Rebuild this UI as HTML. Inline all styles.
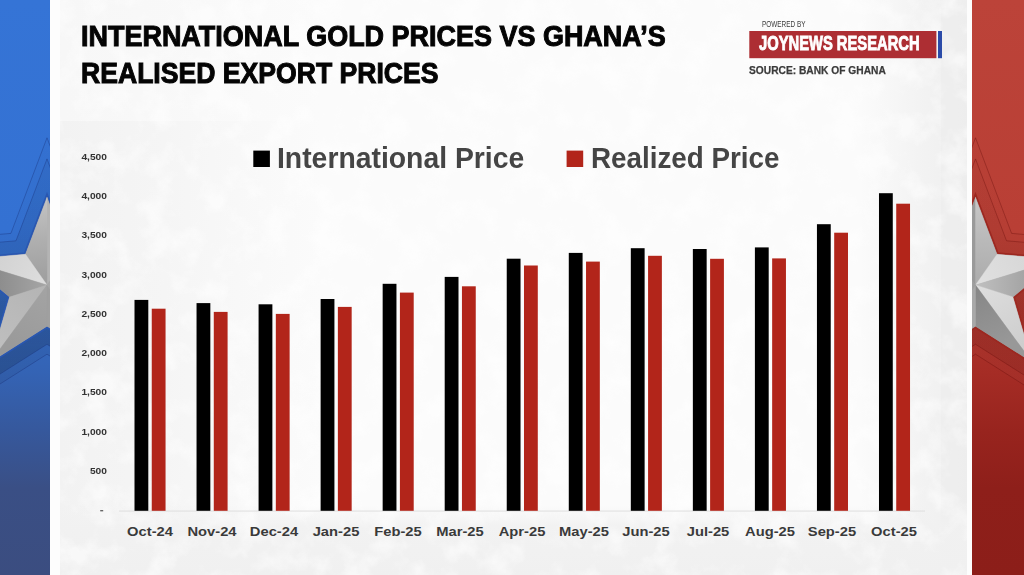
<!DOCTYPE html>
<html><head><meta charset="utf-8"><title>International Gold Prices vs Ghana's Realised Export Prices</title>
<style>
html,body{margin:0;padding:0;background:#fbfbfb;}
body{width:1024px;height:575px;position:relative;overflow:hidden;font-family:"Liberation Sans",sans-serif;}
svg{position:absolute;left:0;top:0;display:block;}
.t{position:absolute;white-space:nowrap;margin:0;padding:0;}
</style></head><body>
<svg width="1024" height="575" viewBox="0 0 1024 575">
<defs>
<linearGradient id="gBlue" x1="0" y1="0" x2="0" y2="1">
<stop offset="0" stop-color="#3574d6"/><stop offset="0.40" stop-color="#3471d2"/><stop offset="0.56" stop-color="#346ac2"/><stop offset="0.65" stop-color="#3463b4"/><stop offset="0.75" stop-color="#36589c"/><stop offset="0.85" stop-color="#3a4f85"/><stop offset="1" stop-color="#3b4d80"/>
</linearGradient>
<linearGradient id="gRed" x1="0" y1="0" x2="0" y2="1">
<stop offset="0" stop-color="#bc4339"/><stop offset="0.40" stop-color="#b93f35"/><stop offset="0.56" stop-color="#ae342b"/><stop offset="0.65" stop-color="#a52c25"/><stop offset="0.75" stop-color="#98241e"/><stop offset="0.85" stop-color="#8e1f1a"/><stop offset="1" stop-color="#8c1e19"/>
</linearGradient>
<linearGradient id="LA" x1="8" y1="-88" x2="0" y2="-8" gradientUnits="userSpaceOnUse"><stop offset="0" stop-color="#c4c4c4"/><stop offset="0.5" stop-color="#b0b0b0"/><stop offset="1" stop-color="#a0a0a0"/></linearGradient>
<linearGradient id="LB" x1="0" y1="0" x2="60" y2="-30" gradientUnits="userSpaceOnUse"><stop offset="0" stop-color="#dedede"/><stop offset="1" stop-color="#d0d0d0"/></linearGradient>
<linearGradient id="LC" x1="0" y1="0" x2="50" y2="0" gradientUnits="userSpaceOnUse"><stop offset="0" stop-color="#a6a6a6"/><stop offset="1" stop-color="#8c8c8c"/></linearGradient>
<linearGradient id="LD" x1="0" y1="0" x2="45" y2="60" gradientUnits="userSpaceOnUse"><stop offset="0" stop-color="#b4b4b4"/><stop offset="1" stop-color="#bebebe"/></linearGradient>
<linearGradient id="LE" x1="0" y1="0" x2="30" y2="60" gradientUnits="userSpaceOnUse"><stop offset="0" stop-color="#a4a4a4"/><stop offset="1" stop-color="#9a9a9a"/></linearGradient>
<linearGradient id="RA" x1="8" y1="-88" x2="0" y2="-8" gradientUnits="userSpaceOnUse"><stop offset="0" stop-color="#c8c8c8"/><stop offset="0.5" stop-color="#bababa"/><stop offset="1" stop-color="#aeaeae"/></linearGradient>
<linearGradient id="RB" x1="0" y1="0" x2="60" y2="-30" gradientUnits="userSpaceOnUse"><stop offset="0" stop-color="#e0e0e0"/><stop offset="1" stop-color="#d6d6d6"/></linearGradient>
<linearGradient id="RC" x1="0" y1="0" x2="50" y2="0" gradientUnits="userSpaceOnUse"><stop offset="0" stop-color="#c0c0c0"/><stop offset="1" stop-color="#a4a4a4"/></linearGradient>
<linearGradient id="RD" x1="0" y1="0" x2="45" y2="60" gradientUnits="userSpaceOnUse"><stop offset="0" stop-color="#dedede"/><stop offset="1" stop-color="#cecece"/></linearGradient>
<linearGradient id="RE" x1="0" y1="0" x2="30" y2="60" gradientUnits="userSpaceOnUse"><stop offset="0" stop-color="#868686"/><stop offset="1" stop-color="#989898"/></linearGradient>
<linearGradient id="sh1" x1="0" y1="-130" x2="0" y2="115" gradientUnits="userSpaceOnUse"><stop offset="0" stop-color="#000" stop-opacity="0.04"/><stop offset="0.42" stop-color="#000" stop-opacity="0.08"/><stop offset="0.62" stop-color="#000" stop-opacity="0.16"/><stop offset="1" stop-color="#000" stop-opacity="0.13"/></linearGradient>
<linearGradient id="sh2" x1="0" y1="-150" x2="0" y2="130" gradientUnits="userSpaceOnUse"><stop offset="0" stop-color="#000" stop-opacity="0.015"/><stop offset="0.55" stop-color="#000" stop-opacity="0.03"/><stop offset="1" stop-color="#000" stop-opacity="0.07"/></linearGradient>
<linearGradient id="shR1" x1="0" y1="-130" x2="0" y2="115" gradientUnits="userSpaceOnUse"><stop offset="0" stop-color="#000" stop-opacity="0.02"/><stop offset="0.42" stop-color="#000" stop-opacity="0.04"/><stop offset="0.62" stop-color="#000" stop-opacity="0.09"/><stop offset="1" stop-color="#000" stop-opacity="0.05"/></linearGradient>
<linearGradient id="shR2" x1="0" y1="-150" x2="0" y2="130" gradientUnits="userSpaceOnUse"><stop offset="0" stop-color="#000" stop-opacity="0.01"/><stop offset="0.55" stop-color="#000" stop-opacity="0.02"/><stop offset="1" stop-color="#fff" stop-opacity="0.03"/></linearGradient>
<linearGradient id="gTexL" x1="0" y1="0" x2="1" y2="0"><stop offset="0" stop-color="#f2f2f2"/><stop offset="0.4" stop-color="#f3f3f3" stop-opacity="0.75"/><stop offset="1" stop-color="#f4f4f4" stop-opacity="0"/></linearGradient>
<linearGradient id="gTexR" x1="0" y1="0" x2="1" y2="0"><stop offset="0" stop-color="#f0f0f0" stop-opacity="0"/><stop offset="0.6" stop-color="#f0f0f0" stop-opacity="0.8"/><stop offset="1" stop-color="#eeeeee"/></linearGradient>
<linearGradient id="gTexB" x1="0" y1="0" x2="0" y2="1"><stop offset="0" stop-color="#f1f1f1" stop-opacity="0"/><stop offset="0.3" stop-color="#f1f1f1" stop-opacity="0.9"/><stop offset="1" stop-color="#f0f0f0"/></linearGradient>
<filter id="grunge" x="0" y="0" width="100%" height="100%" color-interpolation-filters="sRGB">
<feTurbulence type="fractalNoise" baseFrequency="0.035" numOctaves="4" seed="7" result="n"/>
<feColorMatrix in="n" type="matrix" values="0 0 0 0 1  0 0 0 0 1  0 0 0 0 1  3.2 0 0 0 -1.45"/>
</filter>
<clipPath id="cL"><rect x="0" y="0" width="50" height="575"/></clipPath>
<clipPath id="cR"><rect x="972" y="0" width="52" height="575"/></clipPath>
</defs>
<!-- centre panel -->
<rect x="50" y="0" width="922" height="575" fill="#fdfdfd"/>
<rect x="60" y="0" width="907" height="575" fill="#fbfbfb"/>
<rect x="60" y="0" width="260" height="121" fill="url(#gTexL)" opacity="0.45"/>
<rect x="60" y="121" width="260" height="454" fill="url(#gTexL)"/>
<rect x="860" y="0" width="107" height="575" fill="url(#gTexR)"/>
<rect x="941" y="8" width="26" height="567" fill="#ededed" opacity="0.6"/>
<rect x="60" y="505" width="907" height="70" fill="url(#gTexB)"/>
<rect x="60" y="0" width="907" height="575" filter="url(#grunge)" opacity="0.55"/>
<!-- side panels -->
<rect x="0" y="0" width="50" height="575" fill="url(#gBlue)"/>
<rect x="972" y="0" width="52" height="575" fill="url(#gRed)"/>
<g clip-path="url(#cL)">
<g transform="translate(47.0,285.0) scale(-1,1)">
<polygon points="0.0,-147.2 36.1,-51.6 139.4,-42.8 62.8,20.2 94.9,129.4 0.0,69.2 -94.9,129.4 -62.8,20.2 -139.4,-42.8 -36.1,-51.6" fill="url(#sh2)" stroke="rgba(20,40,110,0.38)" stroke-width="0.9"/>
<polygon points="0.0,-126.1 31.0,-44.2 119.5,-36.7 53.9,17.3 81.4,110.9 0.0,59.3 -81.4,110.9 -53.9,17.3 -119.5,-36.7 -31.0,-44.2" fill="url(#sh1)" stroke="rgba(20,40,110,0.38)" stroke-width="0.9"/>
<polygon points="0.0,-87.6 21.5,-30.7 83.0,-25.5 37.4,12.0 56.5,77.0 0.0,41.2 -56.5,77.0 -37.4,12.0 -83.0,-25.5 -21.5,-30.7" fill="#2a57b0" stroke="#2a57b0" stroke-width="4" stroke-linejoin="miter"/>
<polygon points="0.0,-87.6 21.5,-30.7 83.0,-25.5 37.4,12.0 56.5,77.0 0.0,41.2 -56.5,77.0 -37.4,12.0 -83.0,-25.5 -21.5,-30.7" fill="#a8a8a8"/>
<polygon points="0,0 -21.5,-30.7 0.0,-87.6" fill="#b4b4b4" stroke="#b4b4b4" stroke-width="0.4"/>
<polygon points="0,0 0.0,-87.6 21.5,-30.7" fill="url(#LA)" stroke="url(#LA)" stroke-width="0.4"/>
<polygon points="0,0 21.5,-30.7 83.0,-25.5" fill="url(#LB)" stroke="url(#LB)" stroke-width="0.4"/>
<polygon points="0,0 83.0,-25.5 37.4,12.0" fill="url(#LC)" stroke="url(#LC)" stroke-width="0.4"/>
<polygon points="0,0 37.4,12.0 56.5,77.0" fill="url(#LD)" stroke="url(#LD)" stroke-width="0.4"/>
<polygon points="0,0 56.5,77.0 0.0,41.2" fill="url(#LE)" stroke="url(#LE)" stroke-width="0.4"/>
<polygon points="0,0 0.0,41.2 -56.5,77.0" fill="#a0a0a0" stroke="#a0a0a0" stroke-width="0.4"/>
<polygon points="0,0 -56.5,77.0 -37.4,12.0" fill="#a8a8a8" stroke="#a8a8a8" stroke-width="0.4"/>
<polygon points="0,0 -37.4,12.0 -83.0,-25.5" fill="#a8a8a8" stroke="#a8a8a8" stroke-width="0.4"/>
<polygon points="0,0 -83.0,-25.5 -21.5,-30.7" fill="#a8a8a8" stroke="#a8a8a8" stroke-width="0.4"/>
</g>
</g>
<g clip-path="url(#cR)">
<g transform="translate(975.5,285.0) scale(1,1)">
<polygon points="0.0,-147.2 36.1,-51.6 139.4,-42.8 62.8,20.2 94.9,129.4 0.0,69.2 -94.9,129.4 -62.8,20.2 -139.4,-42.8 -36.1,-51.6" fill="url(#shR2)" stroke="rgba(100,12,8,0.4)" stroke-width="0.9"/>
<polygon points="0.0,-126.1 31.0,-44.2 119.5,-36.7 53.9,17.3 81.4,110.9 0.0,59.3 -81.4,110.9 -53.9,17.3 -119.5,-36.7 -31.0,-44.2" fill="url(#shR1)" stroke="rgba(100,12,8,0.4)" stroke-width="0.9"/>
<polygon points="0.0,-87.6 21.5,-30.7 83.0,-25.5 37.4,12.0 56.5,77.0 0.0,41.2 -56.5,77.0 -37.4,12.0 -83.0,-25.5 -21.5,-30.7" fill="#9c2820" stroke="#9c2820" stroke-width="4" stroke-linejoin="miter"/>
<polygon points="0.0,-87.6 21.5,-30.7 83.0,-25.5 37.4,12.0 56.5,77.0 0.0,41.2 -56.5,77.0 -37.4,12.0 -83.0,-25.5 -21.5,-30.7" fill="#a0a0a0"/>
<polygon points="0,0 -21.5,-30.7 0.0,-87.6" fill="#9a9a9a" stroke="#9a9a9a" stroke-width="0.4"/>
<polygon points="0,0 0.0,-87.6 21.5,-30.7" fill="url(#RA)" stroke="url(#RA)" stroke-width="0.4"/>
<polygon points="0,0 21.5,-30.7 83.0,-25.5" fill="url(#RB)" stroke="url(#RB)" stroke-width="0.4"/>
<polygon points="0,0 83.0,-25.5 37.4,12.0" fill="url(#RC)" stroke="url(#RC)" stroke-width="0.4"/>
<polygon points="0,0 37.4,12.0 56.5,77.0" fill="url(#RD)" stroke="url(#RD)" stroke-width="0.4"/>
<polygon points="0,0 56.5,77.0 0.0,41.2" fill="url(#RE)" stroke="url(#RE)" stroke-width="0.4"/>
<polygon points="0,0 0.0,41.2 -56.5,77.0" fill="#a8a8a8" stroke="#a8a8a8" stroke-width="0.4"/>
<polygon points="0,0 -56.5,77.0 -37.4,12.0" fill="#a0a0a0" stroke="#a0a0a0" stroke-width="0.4"/>
<polygon points="0,0 -37.4,12.0 -83.0,-25.5" fill="#a0a0a0" stroke="#a0a0a0" stroke-width="0.4"/>
<polygon points="0,0 -83.0,-25.5 -21.5,-30.7" fill="#a0a0a0" stroke="#a0a0a0" stroke-width="0.4"/>
</g>
</g>
<!-- header badge -->
<rect x="749.3" y="31" width="187.1" height="27.2" fill="#ad2e33"/>
<rect x="938" y="31" width="4" height="27.2" fill="#2b4ba8"/>
<!-- legend -->
<rect x="253.3" y="150.6" width="16.6" height="16.4" fill="#000"/>
<rect x="566.6" y="150.6" width="16.6" height="16.4" fill="#b2251a"/>
<!-- axis -->
<rect x="119" y="510.6" width="806" height="0.9" fill="#dcdcdc"/>
<rect x="100.2" y="510.2" width="3" height="1.1" fill="#444"/>
<rect x="134.50" y="299.90" width="13.80" height="210.90" fill="#000"/>
<rect x="151.75" y="308.70" width="13.80" height="202.10" fill="#b2251a"/>
<rect x="196.54" y="303.10" width="13.80" height="207.70" fill="#000"/>
<rect x="213.79" y="311.90" width="13.80" height="198.90" fill="#b2251a"/>
<rect x="258.58" y="304.30" width="13.80" height="206.50" fill="#000"/>
<rect x="275.83" y="313.90" width="13.80" height="196.90" fill="#b2251a"/>
<rect x="320.62" y="299.00" width="13.80" height="211.80" fill="#000"/>
<rect x="337.87" y="306.90" width="13.80" height="203.90" fill="#b2251a"/>
<rect x="382.66" y="283.80" width="13.80" height="227.00" fill="#000"/>
<rect x="399.91" y="292.60" width="13.80" height="218.20" fill="#b2251a"/>
<rect x="444.70" y="276.90" width="13.80" height="233.90" fill="#000"/>
<rect x="461.95" y="286.30" width="13.80" height="224.50" fill="#b2251a"/>
<rect x="506.74" y="258.70" width="13.80" height="252.10" fill="#000"/>
<rect x="523.99" y="265.50" width="13.80" height="245.30" fill="#b2251a"/>
<rect x="568.78" y="252.90" width="13.80" height="257.90" fill="#000"/>
<rect x="586.03" y="261.60" width="13.80" height="249.20" fill="#b2251a"/>
<rect x="630.82" y="248.20" width="13.80" height="262.60" fill="#000"/>
<rect x="648.07" y="255.80" width="13.80" height="255.00" fill="#b2251a"/>
<rect x="692.86" y="249.00" width="13.80" height="261.80" fill="#000"/>
<rect x="710.11" y="258.80" width="13.80" height="252.00" fill="#b2251a"/>
<rect x="754.90" y="247.40" width="13.80" height="263.40" fill="#000"/>
<rect x="772.15" y="258.40" width="13.80" height="252.40" fill="#b2251a"/>
<rect x="816.94" y="224.20" width="13.80" height="286.60" fill="#000"/>
<rect x="834.19" y="232.70" width="13.80" height="278.10" fill="#b2251a"/>
<rect x="878.98" y="193.20" width="13.80" height="317.60" fill="#000"/>
<rect x="896.23" y="203.70" width="13.80" height="307.10" fill="#b2251a"/>
</svg>
<div class="t" id="t1" style="top:21.95px;font-size:29.00px;line-height:29.00px;font-weight:700;color:#040404;left:80.95px;transform-origin:0 0;transform:scaleX(0.9298);-webkit-text-stroke:1px #040404;">INTERNATIONAL GOLD PRICES VS GHANA’S</div>
<div class="t" id="t2" style="top:58.55px;font-size:29.00px;line-height:29.00px;font-weight:700;color:#040404;left:80.97px;transform-origin:0 0;transform:scaleX(0.9168);-webkit-text-stroke:1px #040404;">REALISED EXPORT PRICES</div>
<div class="t" id="pw" style="top:20.07px;font-size:8.90px;line-height:8.90px;font-weight:400;color:#3c3c3c;left:762.18px;transform-origin:0 0;transform:scaleX(0.7230);">POWERED BY</div>
<div class="t" id="jn" style="top:33.30px;font-size:20.20px;line-height:20.20px;font-weight:700;color:#fff;left:759.26px;transform-origin:0 0;transform:scaleX(0.7305);-webkit-text-stroke:0.9px #fff;">JOYNEWS RESEARCH</div>
<div class="t" id="src" style="top:65.30px;font-size:11.10px;line-height:11.10px;font-weight:700;color:#3a3a3a;left:749.47px;transform-origin:0 0;transform:scaleX(0.9210);-webkit-text-stroke:0.25px #3a3a3a;">SOURCE: BANK OF GHANA</div>
<div class="t" id="l1" style="top:143.10px;font-size:30.00px;line-height:30.00px;font-weight:700;color:#454545;left:276.82px;transform-origin:0 0;transform:scaleX(0.9446);">International Price</div>
<div class="t" id="l2" style="top:143.10px;font-size:30.00px;line-height:30.00px;font-weight:700;color:#454545;left:590.85px;transform-origin:0 0;transform:scaleX(0.9264);">Realized Price</div>
<div class="t" id="y1" style="top:467.09px;font-size:8.40px;line-height:8.40px;font-weight:700;color:#333;right:916.70px;transform-origin:100% 0;transform:scaleX(1.2200);">500</div>
<div class="t" id="y2" style="top:427.79px;font-size:8.40px;line-height:8.40px;font-weight:700;color:#333;right:916.70px;transform-origin:100% 0;transform:scaleX(1.2200);">1,000</div>
<div class="t" id="y3" style="top:388.49px;font-size:8.40px;line-height:8.40px;font-weight:700;color:#333;right:916.70px;transform-origin:100% 0;transform:scaleX(1.2200);">1,500</div>
<div class="t" id="y4" style="top:349.19px;font-size:8.40px;line-height:8.40px;font-weight:700;color:#333;right:916.70px;transform-origin:100% 0;transform:scaleX(1.2200);">2,000</div>
<div class="t" id="y5" style="top:309.89px;font-size:8.40px;line-height:8.40px;font-weight:700;color:#333;right:916.70px;transform-origin:100% 0;transform:scaleX(1.2200);">2,500</div>
<div class="t" id="y6" style="top:270.59px;font-size:8.40px;line-height:8.40px;font-weight:700;color:#333;right:916.70px;transform-origin:100% 0;transform:scaleX(1.2200);">3,000</div>
<div class="t" id="y7" style="top:231.29px;font-size:8.40px;line-height:8.40px;font-weight:700;color:#333;right:916.70px;transform-origin:100% 0;transform:scaleX(1.2200);">3,500</div>
<div class="t" id="y8" style="top:191.99px;font-size:8.40px;line-height:8.40px;font-weight:700;color:#333;right:916.70px;transform-origin:100% 0;transform:scaleX(1.2200);">4,000</div>
<div class="t" id="y9" style="top:152.69px;font-size:8.40px;line-height:8.40px;font-weight:700;color:#333;right:916.70px;transform-origin:100% 0;transform:scaleX(1.2200);">4,500</div>
<div class="t" id="x0" style="top:524.66px;font-size:13.40px;line-height:13.40px;font-weight:700;color:#3a3a3a;left:150.20px;transform-origin:50% 0;transform:translateX(-50%) scaleX(1.1000);">Oct-24</div>
<div class="t" id="x1" style="top:524.66px;font-size:13.40px;line-height:13.40px;font-weight:700;color:#3a3a3a;left:212.15px;transform-origin:50% 0;transform:translateX(-50%) scaleX(1.1000);">Nov-24</div>
<div class="t" id="x2" style="top:524.66px;font-size:13.40px;line-height:13.40px;font-weight:700;color:#3a3a3a;left:274.10px;transform-origin:50% 0;transform:translateX(-50%) scaleX(1.1000);">Dec-24</div>
<div class="t" id="x3" style="top:524.66px;font-size:13.40px;line-height:13.40px;font-weight:700;color:#3a3a3a;left:336.05px;transform-origin:50% 0;transform:translateX(-50%) scaleX(1.1000);">Jan-25</div>
<div class="t" id="x4" style="top:524.66px;font-size:13.40px;line-height:13.40px;font-weight:700;color:#3a3a3a;left:398.00px;transform-origin:50% 0;transform:translateX(-50%) scaleX(1.1000);">Feb-25</div>
<div class="t" id="x5" style="top:524.66px;font-size:13.40px;line-height:13.40px;font-weight:700;color:#3a3a3a;left:459.95px;transform-origin:50% 0;transform:translateX(-50%) scaleX(1.1000);">Mar-25</div>
<div class="t" id="x6" style="top:524.66px;font-size:13.40px;line-height:13.40px;font-weight:700;color:#3a3a3a;left:521.90px;transform-origin:50% 0;transform:translateX(-50%) scaleX(1.1000);">Apr-25</div>
<div class="t" id="x7" style="top:524.66px;font-size:13.40px;line-height:13.40px;font-weight:700;color:#3a3a3a;left:583.85px;transform-origin:50% 0;transform:translateX(-50%) scaleX(1.1000);">May-25</div>
<div class="t" id="x8" style="top:524.66px;font-size:13.40px;line-height:13.40px;font-weight:700;color:#3a3a3a;left:645.80px;transform-origin:50% 0;transform:translateX(-50%) scaleX(1.1000);">Jun-25</div>
<div class="t" id="x9" style="top:524.66px;font-size:13.40px;line-height:13.40px;font-weight:700;color:#3a3a3a;left:707.75px;transform-origin:50% 0;transform:translateX(-50%) scaleX(1.1000);">Jul-25</div>
<div class="t" id="x10" style="top:524.66px;font-size:13.40px;line-height:13.40px;font-weight:700;color:#3a3a3a;left:769.70px;transform-origin:50% 0;transform:translateX(-50%) scaleX(1.1000);">Aug-25</div>
<div class="t" id="x11" style="top:524.66px;font-size:13.40px;line-height:13.40px;font-weight:700;color:#3a3a3a;left:831.65px;transform-origin:50% 0;transform:translateX(-50%) scaleX(1.1000);">Sep-25</div>
<div class="t" id="x12" style="top:524.66px;font-size:13.40px;line-height:13.40px;font-weight:700;color:#3a3a3a;left:893.60px;transform-origin:50% 0;transform:translateX(-50%) scaleX(1.1000);">Oct-25</div>
</body></html>
